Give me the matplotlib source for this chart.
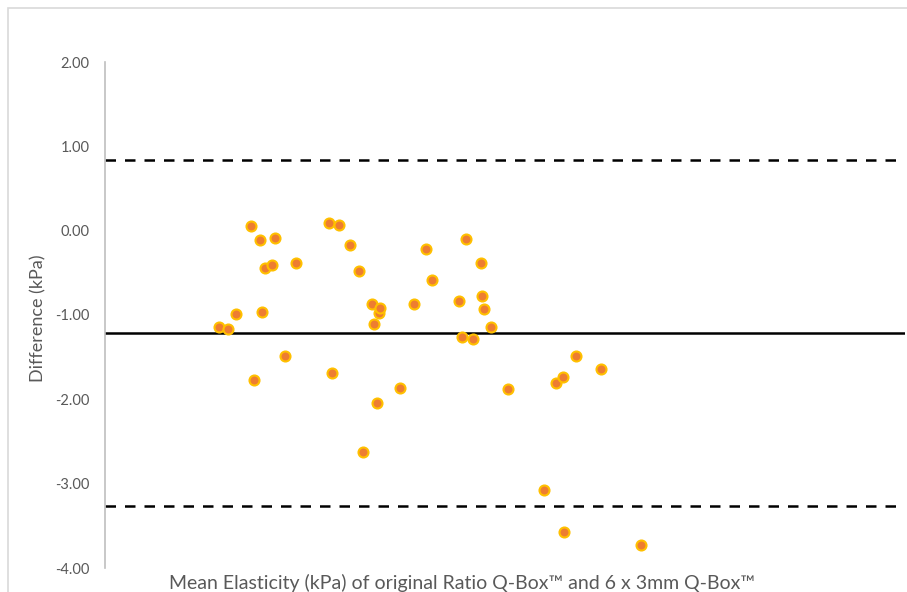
import matplotlib
matplotlib.use("Agg")
import matplotlib.pyplot as plt
from matplotlib.patches import Rectangle

plt.rcParams['font.family'] = ['Lato', 'DejaVu Sans']

# Bland-Altman data: mean elasticity (kPa) vs difference (kPa)
mean_elasticity = [1.14, 1.23, 1.31, 1.46, 1.49, 1.55, 1.57, 1.60, 1.67, 1.70,
                   1.80, 1.91, 2.24, 2.27, 2.34, 2.45, 2.54, 2.58, 2.67, 2.69,
                   2.72, 2.74, 2.75, 2.95, 3.09, 3.21, 3.27, 3.54, 3.57, 3.61,
                   3.68, 3.76, 3.77, 3.79, 3.86, 4.03, 4.39, 4.51, 4.58, 4.59,
                   4.71, 4.96, 5.36]
difference = [-1.145, -1.166, -0.991, 0.056, -1.770, -0.114, -0.961, -0.446, -0.410, -0.090,
              -1.486, -0.383, 0.088, -1.691, 0.071, -0.166, -0.474, -2.624, -0.869, -1.110,
              -2.047, -0.979, -0.920, -1.862, -0.866, -0.213, -0.581, -0.830, -1.264, -0.102,
              -1.288, -0.383, -0.774, -0.932, -1.142, -1.881, -3.075, -1.806, -1.735, -3.569,
              -1.486, -1.640, -3.727]

bias = -1.213
upper_loa = 0.838
lower_loa = -3.259

yticks = [2, 1, 0, -1, -2, -3, -4]

W, H = 907, 592
fig = plt.figure(figsize=(W / 100, H / 100), dpi=100)

# light grey chart-area border (cropped at right and bottom)
fig.patches.append(Rectangle((8 / W, -0.1), 1.2, 1.1 - 8 / H, transform=fig.transFigure,
                             fill=False, edgecolor='#D9D9D9', linewidth=1.2))

ax = fig.add_axes([105 / W, 1 - 568 / H, 800 / W, 506 / H])
ax.set_xlim(0, 8)
ax.set_ylim(-4, 2)

ax.axhline(bias, color='black', linewidth=1.8, zorder=2)
ax.axhline(upper_loa, color='black', linewidth=1.8, linestyle=(0, (4.2, 3.6)), zorder=2)
ax.axhline(lower_loa, color='black', linewidth=1.8, linestyle=(0, (4.2, 3.6)), zorder=2)

ax.plot(mean_elasticity, difference, linestyle='none', marker='o', markersize=7.2,
        markerfacecolor='#ED7D31', markeredgecolor='#FFC000', markeredgewidth=1.5, zorder=3)

for s in ['top', 'right', 'bottom']:
    ax.spines[s].set_visible(False)
ax.spines['left'].set_color('#BFBFBF')
ax.spines['left'].set_linewidth(1.2)

ax.set_yticks(yticks)
ax.set_yticklabels([f"{v:.2f}" for v in yticks])
ax.tick_params(axis='y', length=0, pad=11, labelsize=10.5, labelcolor='#595959')
ax.set_xticks([])

fig.text(38 / W, 1 - 318 / H, 'Difference (kPa)', rotation=90, ha='center', va='center',
         fontsize=13, color='#595959')
fig.text(462 / W, 1 - 583 / H, 'Mean Elasticity (kPa) of original Ratio Q-Box\u2122 and 6 x 3mm Q-Box\u2122',
         ha='center', va='center', fontsize=14, color='#595959')

fig.savefig('out.png', dpi=100)
